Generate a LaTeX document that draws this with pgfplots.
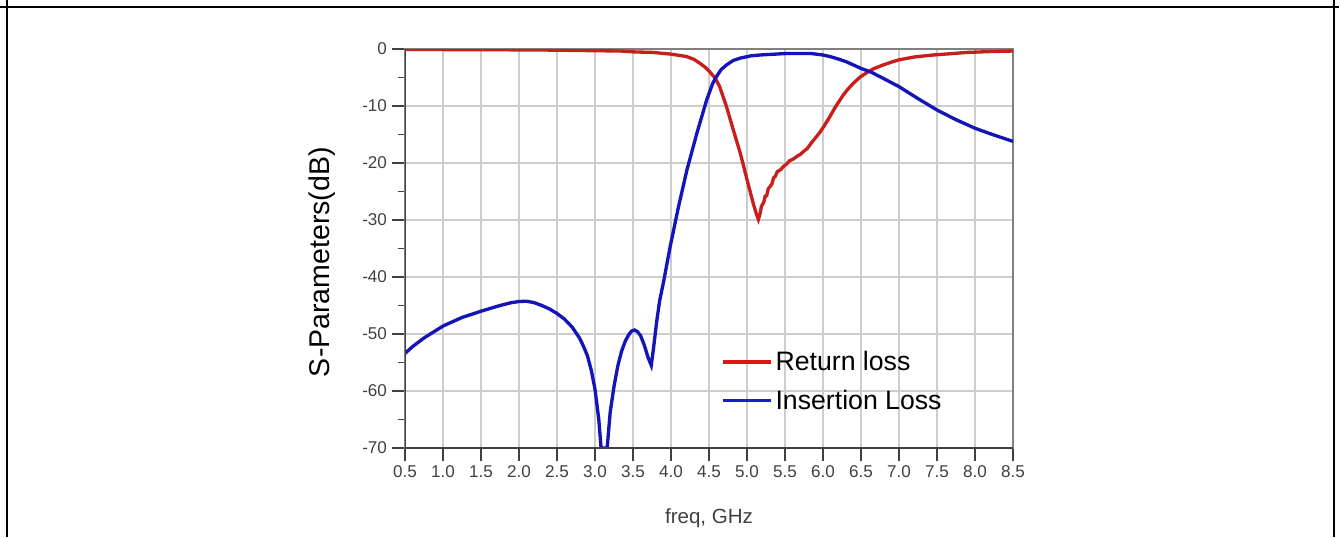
\documentclass[border=0pt]{standalone}
\usepackage{fontspec}
\setmainfont{Liberation Sans}
\usepackage{pgfplots}
\pgfplotsset{compat=1.18}
\definecolor{rl}{RGB}{200,30,30}
\definecolor{rlleg}{RGB}{225,20,20}
\definecolor{il}{RGB}{20,20,185}
\definecolor{illeg}{RGB}{20,30,210}
\definecolor{gridc}{RGB}{205,205,205}
\definecolor{tickc}{RGB}{64,64,64}
\begin{document}
\begin{tikzpicture}
\path[use as bounding box] (0,0) rectangle (1004.25pt,402.75pt);
\draw[line width=1.5pt] (5.25pt,0) -- (5.25pt,402.75pt);
\draw[line width=1.5pt] (0,397.5pt) -- (1004.25pt,397.5pt);
\draw[line width=1.5pt] (1000.5pt,0) -- (1000.5pt,402.75pt);
\begin{axis}[at={(303.75pt,66.75pt)}, anchor=south west, scale only axis,
  width=456pt, height=299.25pt,
  xmin=0.5, xmax=8.5, ymin=-70, ymax=0,
  xtick={0.5,1.0,1.5,2.0,2.5,3.0,3.5,4.0,4.5,5.0,5.5,6.0,6.5,7.0,7.5,8.0,8.5},
  xticklabels={0.5,1.0,1.5,2.0,2.5,3.0,3.5,4.0,4.5,5.0,5.5,6.0,6.5,7.0,7.5,8.0,8.5},
  ytick={-70,-60,-50,-40,-30,-20,-10,0},
  yticklabels={-70,-60,-50,-40,-30,-20,-10,0},
  minor ytick={-65,-55,-45,-35,-25,-15,-5},
  grid=major, major grid style={gridc, line width=0.9pt},
  tick align=outside, xtick pos=bottom, ytick pos=left,
  major tick length=10pt, minor tick length=5pt,
  tick style={tickc, line width=1pt},
  axis line style={draw=gray, line width=1pt},
  ticklabel style={font=\fontsize{12.8}{15}\selectfont, text=tickc},
  xlabel={freq, GHz}, ylabel={S-Parameters(dB)},
  xlabel style={at={(axis description cs:0.5,-0.1754)}, anchor=center, font=\fontsize{15.4}{18}\selectfont, text=tickc},
  ylabel style={at={(axis description cs:-0.1365,0.466)}, anchor=center, font=\fontsize{21.4}{25}\selectfont, text=black},
  legend style={at={(rel axis cs:0.52,0.25)}, anchor=north west, draw=none, fill=none,
    font=\fontsize{20}{24}\selectfont, row sep=9pt, inner sep=0pt},
  legend image code/.code={\draw[#1] (0pt,0pt) -- (36pt,0pt);},
  legend cell align=left,
]
\addplot[rl, line width=2.5pt, forget plot] coordinates {
(0.5,-0.1) (1.0,-0.1) (2.0,-0.15) (2.5,-0.2) (3.0,-0.3) (3.33,-0.35) (3.5,-0.5)
(3.76,-0.6) (4.0,-0.9) (4.2,-1.3) (4.3,-1.8) (4.38,-2.5) (4.45,-3.2) (4.51,-4.0)
(4.58,-5.1) (4.64,-6.6) (4.73,-10.1) (4.82,-14.2) (4.91,-18.2) (5.0,-22.9)
(5.08,-27.0) (5.12,-28.8) (5.15,-29.9) (5.17,-29.0) (5.19,-27.6) (5.22,-26.9)
(5.24,-25.8) (5.26,-25.7) (5.28,-24.5) (5.30,-24.2) (5.33,-23.6) (5.35,-22.6)
(5.37,-22.4) (5.40,-21.5) (5.44,-21.2) (5.48,-20.6) (5.52,-20.2) (5.56,-19.6)
(5.61,-19.3) (5.66,-18.8) (5.70,-18.5) (5.75,-17.9) (5.79,-17.5) (5.84,-16.6)
(5.9,-15.6) (5.96,-14.6) (6.02,-13.4) (6.08,-12.1) (6.14,-10.7) (6.20,-9.4)
(6.26,-8.2) (6.33,-7.0) (6.4,-6.0) (6.49,-4.9) (6.58,-4.1) (6.66,-3.5) (6.79,-2.8)
(6.9,-2.3) (7.0,-1.9) (7.2,-1.4) (7.45,-1.05) (7.7,-0.8) (7.89,-0.6) (8.2,-0.45) (8.5,-0.35)
};
\addplot[il, line width=2.5pt, forget plot] coordinates {
(0.5,-53.4) (0.6,-52.2) (0.75,-50.7) (1.0,-48.6) (1.25,-47.1) (1.5,-46.0)
(1.75,-45.0) (1.9,-44.5) (2.0,-44.3) (2.1,-44.25) (2.2,-44.5) (2.3,-45.0)
(2.4,-45.6) (2.5,-46.4) (2.6,-47.4) (2.7,-48.8) (2.8,-50.8)
(2.85,-52.2) (2.9,-53.8) (2.95,-56.3) (3.0,-59.7) (3.05,-65.0) (3.08,-70)
(3.16,-70) (3.2,-63.7) (3.25,-59.2) (3.3,-55.6) (3.35,-53.0) (3.4,-51.2)
(3.45,-50.0) (3.48,-49.5) (3.52,-49.3) (3.56,-49.6) (3.6,-50.3) (3.65,-52.0) (3.7,-54.2)
(3.74,-55.5) (3.77,-52.5) (3.81,-48.0) (3.85,-44.2) (3.90,-41.0) (3.99,-34.6) (4.10,-27.6)
(4.21,-21.2) (4.34,-14.8) (4.47,-8.9) (4.55,-6.0) (4.60,-4.8) (4.66,-3.6) (4.73,-2.8) (4.82,-2.0) (4.91,-1.6)
(5.05,-1.2) (5.17,-1.05) (5.5,-0.8) (5.85,-0.8) (6.0,-1.05) (6.1,-1.35) (6.2,-1.75) (6.3,-2.2) (6.4,-2.8)
(6.5,-3.4) (6.64,-4.1) (6.8,-5.2) (7.0,-6.6) (7.25,-8.7) (7.5,-10.7)
(7.75,-12.4) (8.0,-13.9) (8.25,-15.1) (8.5,-16.2)
};
\addlegendimage{rlleg, line width=2.6pt}
\addlegendentry{Return loss}
\addlegendimage{illeg, line width=2.6pt}
\addlegendentry{Insertion Loss}
\draw[tickc, line width=1.3pt] (rel axis cs:0,1) -- (rel axis cs:0,0) -- (rel axis cs:1,0);
\end{axis}
\end{tikzpicture}
\end{document}
